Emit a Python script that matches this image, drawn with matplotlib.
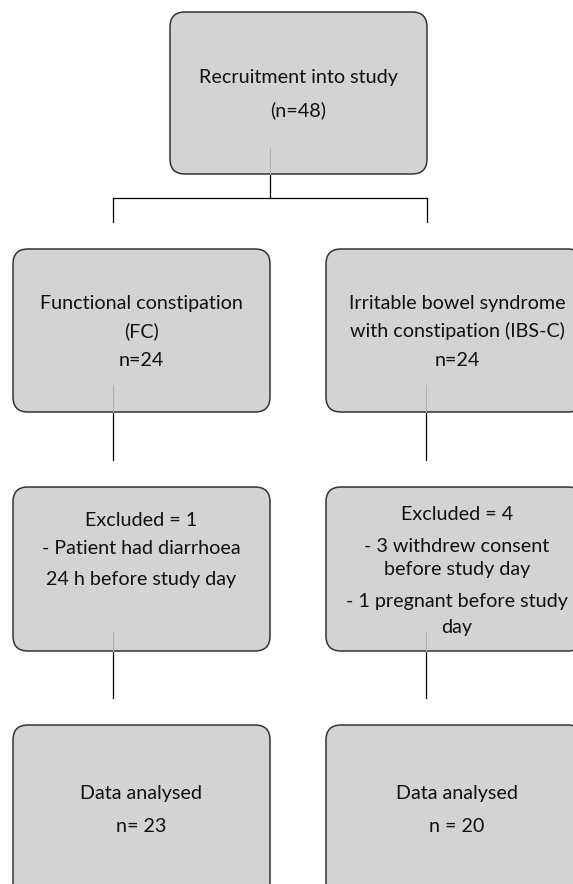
import matplotlib.pyplot as plt
from matplotlib.patches import FancyBboxPatch

plt.rcParams['font.family'] = ['Lato', 'DejaVu Sans']

# flow chart content: one entry per box
top_lines = ['Recruitment into study', '(n=48)']
group_lines = [
    ['Functional constipation', '(FC)', 'n=24'],
    ['Irritable bowel syndrome', 'with constipation (IBS-C)', 'n=24'],
]
excluded_lines = [
    ['Excluded = 1', '- Patient had diarrhoea', '24 h before study day'],
    ['Excluded = 4', '- 3 withdrew consent', 'before study day',
     '- 1 pregnant before study', 'day'],
]
analysed_lines = [
    ['Data analysed', 'n= 23'],
    ['Data analysed', 'n = 20'],
]

W, H = 573, 884
fig = plt.figure(figsize=(W / 100, H / 100), dpi=100)
ax = fig.add_axes([0, 0, 1, 1])
ax.set_xlim(0, W)
ax.set_ylim(H, 0)
ax.axis('off')

FILL = '#d3d3d3'
EDGE = '#333333'
FS = 14.2


def box(x0, y0, x1, y1):
    p = FancyBboxPatch((x0, y0), x1 - x0, y1 - y0,
                       boxstyle='round,pad=0,rounding_size=15',
                       facecolor=FILL, edgecolor=EDGE, linewidth=1.1, zorder=2)
    ax.add_patch(p)


def texts(cx, ys, lines):
    for y, s in zip(ys, lines):
        ax.text(cx, y, s, ha='center', va='center', fontsize=FS,
                color='#111111', zorder=4)


def vline(x, y0, y1, inner):
    # faint part inside the box, dark part between boxes
    ax.plot([x, x], [inner, y0], color='#b0b0b0', lw=0.8, zorder=3)
    ax.plot([x, x], [y0, y1], color='black', lw=0.9, zorder=1)


# top box
box(170, 12, 427, 174)
texts(298, [78, 110], top_lines)
vline(270, 174, 198, 148)
ax.plot([113, 427], [198, 198], color='black', lw=0.9, zorder=1)
for x in (113, 427):
    ax.plot([x, x], [198, 222], color='black', lw=0.9, zorder=1)

lefts = [13, 326]
for i, x0 in enumerate(lefts):
    cx = x0 + 128.5 if i == 0 else x0 + 131
    lx = x0 + 100

    box(x0, 249, x0 + 257, 412)
    texts(cx, [304, 331, 361], group_lines[i])
    vline(lx, 412, 460, 385)

    box(x0, 487, x0 + 257, 651)
    if i == 0:
        texts(cx, [520, 549, 580], excluded_lines[i])
    else:
        texts(cx, [515, 547, 570, 602, 627], excluded_lines[i])
    vline(lx, 651, 698, 632)

    box(x0, 725, x0 + 257, 900)
    texts(cx, [793, 826], analysed_lines[i])

fig.savefig('out.png', dpi=100)
